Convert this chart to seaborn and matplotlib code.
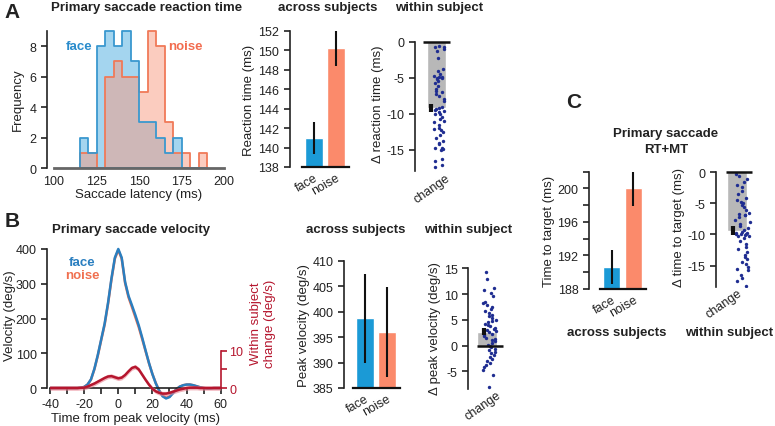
import numpy as np
import matplotlib
matplotlib.use("Agg")
import matplotlib.pyplot as plt
import seaborn as sns

# ---------------- data ----------------
conditions = ["face", "noise"]

# A: primary saccade latency histogram, 5 ms bins
latency_edges = [115, 120, 125, 130, 135, 140, 145, 150, 155, 160, 165, 170, 175, 180, 185, 190]
face_counts = [2, 1, 8, 9, 8, 9, 7, 3, 3, 2, 1, 2, 0, 0, 0]
noise_counts = [1, 1, 0, 6, 7, 6, 6, 5, 9, 8, 3, 1, 1, 0, 1]

rt_means = [141.0, 150.2]
rt_low = [139.3, 148.4]
rt_high = [142.6, 152.0]
rt_change = [-0.6, -0.7, -0.8, -1.0, -1.3, -2.3, -3.8, -4.1, -4.5, -4.7, -4.9, -4.9, -5.0, -5.0,
             -5.2, -5.4, -5.8, -6.2, -6.5, -6.8, -7.0, -7.2, -7.5, -8.0, -8.3, -9.0, -9.2, -9.3,
             -9.5, -9.6, -9.8, -10.0, -10.1, -10.4, -10.7, -11.0, -11.2, -11.6, -12.0, -12.1,
             -12.3, -12.6, -13.0, -13.4, -13.8, -14.0, -14.2, -14.7, -14.8, -14.9, -15.0, -16.3,
             -16.6, -17.1, -17.4]
rt_change_mean = -9.2
rt_change_sem = (-8.7, -9.8)

# B: velocity profiles
velocity_time = list(range(-40, 61, 2))
face_velocity = [0, 0, 0, 0, 0, 0, 0, 0, 0, 1,
                 3, 10, 25, 55, 95, 140, 185, 245, 315, 375, 400,
                 375, 305, 265, 238, 210, 180, 145, 108, 72, 40, 13, -8, -24, -30, -26, -15, -4, 4,
                 8, 10, 10, 8, 5, 2, 0, -1, -1, 0, 0, 0]
noise_velocity = [0, 0, 0, 0, 0, 0, 0, 0, 0, 1,
                  3, 10, 24, 54, 93, 138, 182, 242, 312, 372, 397,
                  372, 302, 261, 233, 204, 175, 141, 106, 71, 40, 14, -7, -22, -28, -25, -14, -3, 4,
                  8, 10, 10, 8, 5, 2, 0, -1, -1, 0, 0, 0]
velocity_change = [0, 0, 0, 0, 0, 0, 0, 0, 0, 0.05,
                   0.1, 0.4, 0.8, 1.2, 1.7, 2.2, 2.7, 3.1, 3.2, 2.9, 2.6,
                   2.8, 3.5, 4.5, 5.4, 5.7, 5.0, 3.6, 2.2, 0.9, -0.2, -0.9, -1.3, -1.5, -1.5, -1.3,
                   -1.0, -0.7, -0.4, -0.2, 0.0, 0.1, 0.1, 0.1, 0.0, 0.0, 0.0, 0.0, 0.0, 0.0, 0.0]
velocity_change_sem = 0.6

peak_means = [398.7, 395.9]
peak_low = [389.9, 387.1]
peak_high = [407.4, 404.8]
peak_change = [14.3, 13.0, 11.2, 10.8, 10.2, 9.6, 8.5, 8.2, 7.8, 7.5, 7.0, 6.8, 6.4, 6.0, 5.7,
               5.3, 5.0, 4.8, 4.5, 4.2, 4.0, 3.7, 3.5, 3.3, 3.0, 2.8, 2.6, 2.3, 2.0, 1.8, 1.5,
               1.2, 1.0, 0.8, 0.5, 0.2, 0.0, -0.3, -0.6, -0.9, -1.2, -1.5, -1.8, -2.2, -2.6,
               -3.0, -3.3, -3.7, -4.2, -4.8, -5.8, -8.0]
peak_change_mean = 2.7
peak_change_sem = (2.1, 3.4)

# C: time to target (RT + MT)
ttt_means = [190.66, 200.1]
ttt_low = [188.6, 197.9]
ttt_high = [192.7, 202.3]
ttt_change = [-0.3, -0.6, -1.0, -1.5, -2.0, -2.4, -3.0, -3.5, -4.2, -4.5, -4.8, -5.0, -5.3,
              -5.5, -6.0, -6.5, -6.7, -6.8, -6.9, -7.2, -7.6, -8.0, -8.3, -8.6, -9.0, -9.3,
              -9.6, -9.7, -9.8, -9.9, -10.0, -10.0, -10.1, -10.2, -10.3, -10.5, -11.0, -11.5,
              -12.0, -12.4, -12.8, -13.3, -13.7, -14.0, -14.4, -14.8, -15.2, -15.5, -15.7,
              -16.5, -17.0, -17.5, -18.3]
ttt_change_mean = -9.4
ttt_change_sem = (-8.6, -10.1)

# ---------------- style ----------------
sns.set_style("ticks")
plt.rcParams["font.family"] = ["Liberation Sans", "DejaVu Sans"]
plt.rcParams.update({
    "axes.unicode_minus": False,
    "axes.linewidth": 1.2,
    "axes.edgecolor": "#222222",
    "xtick.major.width": 1.2, "ytick.major.width": 1.2,
    "xtick.major.size": 4, "ytick.major.size": 4,
    "xtick.labelsize": 9, "ytick.labelsize": 9,
    "axes.labelsize": 9.5,
    "xtick.color": "#222222", "ytick.color": "#222222",
    "text.color": "#222222", "axes.labelcolor": "#222222",
})

face_bar, noise_bar = "#1b9ad6", "#fb8a6b"
face_line, noise_line = "#2a7fc0", "#f07050"
change_red = "#b5162e"
dot_color = "#1f2d91"
grey_bar = "#b8b8b8"

W, H = 775, 427


def rect(left, top, right, bottom):
    return [left / W, 1 - bottom / H, (right - left) / W, (bottom - top) / H]


def ftext(x, y, s, **kw):
    fig.text(x / W, 1 - y / H, s, ha="center", va="center", **kw)


fig = plt.figure(figsize=(7.75, 4.27), dpi=100)

# ---------------- A: histogram ----------------
ax = fig.add_axes(rect(54, 30.5, 224, 169))
centers = [e + 2.5 for e in latency_edges[:-1]]
sns.histplot(x=centers, weights=face_counts, bins=latency_edges, element="step",
             color="#3a98cf", facecolor=(0.353, 0.706, 0.886, 0.55), edgecolor="none", ax=ax)
sns.histplot(x=centers, weights=noise_counts, bins=latency_edges, element="step",
             color="#f07a58", facecolor=(0.973, 0.604, 0.502, 0.5), edgecolor="none", ax=ax)
sns.histplot(x=centers, weights=noise_counts, bins=latency_edges, element="step",
             color="#f07a58", facecolor="none", edgecolor="#f07a58", linewidth=1.3, ax=ax)
sns.histplot(x=centers, weights=face_counts, bins=latency_edges, element="step",
             color="#3a98cf", facecolor="none", edgecolor="#3a98cf", linewidth=1.3, ax=ax)
ax.set_xlim(100, 200)
ax.set_ylim(0, 9.1)
ax.set_xticks([100, 125, 150, 175, 200])
ax.set_yticks([0, 2, 4, 6, 8])
sns.despine(ax=ax)
ax.spines["left"].set_position(("outward", 5))
ax.spines["left"].set_bounds(0, 9)
ax.spines["bottom"].set_color("#666666")
ax.spines["bottom"].set_linewidth(2)
ax.tick_params(axis="x", length=0, pad=5)
ax.set_xlabel("Saccade latency (ms)", labelpad=1)
ax.set_ylabel("Frequency")
ax.text(115, 8, "face", color="#2a8ccc", fontweight="bold", fontsize=9.5, ha="center", va="center")
ax.text(177, 8, "noise", color="#f26c4f", fontweight="bold", fontsize=9.5, ha="center", va="center")


# ---------------- helpers ----------------
def across(box, means, lows, highs, ylim, yticks, yticklabels, ylabel, offset):
    a = fig.add_axes(rect(*box))
    sns.barplot(x=[0, 1], y=means, hue=conditions, palette=[face_bar, noise_bar],
                native_scale=True, width=0.8, saturation=1, errorbar=None, legend=False, ax=a)
    a.vlines([0, 1], lows, highs, color="#111111", lw=1.5, zorder=3)
    a.set_xlim(-0.55, 1.6)
    a.set_ylim(*ylim)
    a.set_yticks(yticks)
    a.set_yticklabels(yticklabels)
    a.set_xticks([0, 1])
    a.set_xticklabels(conditions, rotation=30, ha="right", rotation_mode="anchor")
    sns.despine(ax=a)
    a.spines["left"].set_position(("outward", offset))
    a.spines["bottom"].set_color("#111111")
    a.spines["bottom"].set_linewidth(1.6)
    a.tick_params(axis="x", length=0, pad=3)
    a.set_xlabel("")
    a.set_ylabel(ylabel, labelpad=2)
    return a


def within(box, values, mean, sem, xlim, ylim, spine_lo, spine_hi, yticks, ylabel,
           zero_span, err_x, jit_center, jit_half, label_x, seed):
    a = fig.add_axes(rect(*box))
    sns.barplot(x=[0], y=[mean], native_scale=True, width=1.0, color=grey_bar,
                saturation=1, errorbar=None, ax=a)
    rng = np.random.default_rng(seed)
    xs = jit_center + rng.uniform(-jit_half, jit_half, len(values))
    sns.scatterplot(x=xs, y=values, s=6, color=dot_color, linewidth=0, ax=a, zorder=3)
    a.hlines(0, zero_span[0], zero_span[1], color="#111111", lw=1.8, zorder=4)
    a.vlines(err_x, sem[0], sem[1], color="#111111", lw=3, zorder=4)
    a.set_xlim(*xlim)
    a.set_ylim(*ylim)
    a.set_yticks(yticks)
    a.set_xticks([label_x])
    a.set_xticklabels(["change"], rotation=35, ha="center")
    sns.despine(ax=a, bottom=True)
    a.spines["left"].set_bounds(spine_lo, spine_hi)
    a.tick_params(axis="x", length=0, pad=0)
    a.set_xlabel("")
    a.set_ylabel(ylabel, labelpad=2)
    return a


# ---------------- A: across / within ----------------
across((302, 32, 349, 168), rt_means, rt_low, rt_high, (138, 152),
       list(range(138, 153, 2)), [str(v) for v in range(138, 153, 2)],
       "Reaction time (ms)", 9)
within((415, 35.5, 455, 172.3), rt_change, rt_change_mean, rt_change_sem,
       (-1.12, 1.0), (-18, 1), -17.9, 0, [0, -5, -10, -15], "\u0394 reaction time (ms)",
       (-0.71, 0.72), -0.29, 0.15, 0.3, -0.2, 1)

# ---------------- B: velocity ----------------
ax = fig.add_axes(rect(50, 246.5, 220.7, 401.2))
sns.lineplot(x=velocity_time, y=noise_velocity, color=noise_line, lw=1.8, ax=ax)
sns.lineplot(x=velocity_time, y=face_velocity, color=face_line, lw=1.8, ax=ax)
ax.set_xlim(-40, 60)
ax.set_ylim(-35, 410)
ax.set_xticks(list(range(-40, 61, 10)))
ax.set_xticklabels([str(v) if v % 20 == 0 else "" for v in range(-40, 61, 10)])
ax.set_yticks([0, 100, 200, 300, 400])
sns.despine(ax=ax)
ax.spines["bottom"].set_position(("data", 0))
ax.spines["left"].set_position(("outward", 2))
ax.spines["left"].set_bounds(0, 400)
ax.set_xlabel("Time from peak velocity (ms)", labelpad=1)
ax.set_ylabel("Velocity (deg/s)")
ax.yaxis.set_label_coords(-0.2, 0.55)
ax.text(-21.3, 362, "face", color=face_line, fontweight="bold", fontsize=9.5, ha="center", va="center")
ax.text(-21.3, 325, "noise", color=noise_line, fontweight="bold", fontsize=9.5, ha="center", va="center")

ax2 = ax.twinx()
lo = [c - velocity_change_sem for c in velocity_change]
hi = [c + velocity_change_sem for c in velocity_change]
ax2.fill_between(velocity_time, lo, hi, color="#e8808f", alpha=0.6, linewidth=0)
sns.lineplot(x=velocity_time, y=velocity_change, color=change_red, lw=1.8, ax=ax2)
ax2.set_ylim(-35 / 10.7, 410 / 10.7)
ax2.set_yticks([0, 5, 10])
ax2.set_yticklabels(["0", "", "10"])
for s in ["top", "left", "bottom"]:
    ax2.spines[s].set_visible(False)
ax2.spines["right"].set_bounds(0, 10)
ax2.spines["right"].set_color(change_red)
ax2.tick_params(axis="y", colors=change_red, pad=2)
ax2.set_ylabel("Within subject\nchange (deg/s)", color=change_red, labelpad=5)

across((353, 261.7, 400, 389), peak_means, peak_low, peak_high, (385, 410),
       list(range(385, 411, 5)), [str(v) for v in range(385, 411, 5)],
       "Peak velocity (deg/s)", 6.5)
within((468, 266.7, 506.7, 389.8), peak_change, peak_change_mean, peak_change_sem,
       (-0.935, 1.0), (-8.4, 15.5), -8.4, 15, [-5, 0, 5, 10, 15], "\u0394 peak velocity (deg/s)",
       (-0.49, 0.82), -0.13, 0.15, 0.35, -0.18, 2)

# ---------------- C ----------------
across((600, 172.7, 646, 290), ttt_means, ttt_low, ttt_high, (188, 202),
       list(range(188, 203, 2)), ["188", "", "192", "", "196", "", "200", ""],
       "Time to target (ms)", 8)
within((716, 167.1, 757.6, 287.7), ttt_change, ttt_change_mean, ttt_change_sem,
       (-1.02, 1.0), (-18.4, 1), -18.4, 0, [0, -5, -10, -15], "\u0394 time to target (ms)",
       (-0.53, 0.71), -0.2, 0.27, 0.36, -0.63, 3)

# ---------------- titles & panel letters ----------------
tkw = dict(fontsize=9.5, fontweight="bold")
ftext(147, 8, "Primary saccade reaction time", **tkw)
ftext(328, 8, "across subjects", **tkw)
ftext(439, 8, "within subject", **tkw)
ftext(131, 230, "Primary saccade velocity", **tkw)
ftext(356, 230, "across subjects", **tkw)
ftext(468, 230, "within subject", **tkw)
ftext(666, 134, "Primary saccade", **tkw)
ftext(666, 150, "RT+MT", **tkw)
ftext(617, 333, "across subjects", **tkw)
ftext(729, 333, "within subject", **tkw)
ftext(12, 13, "A", fontsize=15, fontweight="bold")
ftext(12, 222, "B", fontsize=15, fontweight="bold")
ftext(574, 102, "C", fontsize=15, fontweight="bold")

fig.savefig("out.png", dpi=100)
